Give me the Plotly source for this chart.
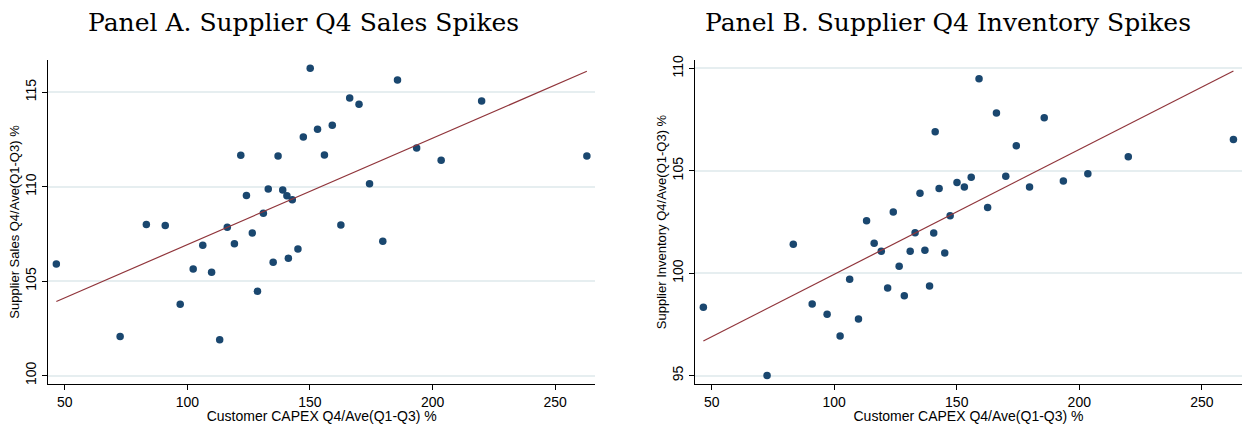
import numpy as np
import plotly.graph_objects as go
from plotly.subplots import make_subplots

# Shared x: Customer CAPEX Q4/Ave(Q1-Q3) %
capex = [46.6, 72.6, 83.3, 91.0, 97.1, 102.4, 106.3, 109.9, 113.2, 116.3,
         119.2, 121.8, 124.1, 126.5, 128.6, 131.0, 133.0, 135.0, 137.0, 138.9,
         140.6, 141.2, 142.8, 145.1, 147.3, 150.1, 153.1, 155.9, 159.1, 162.6,
         166.2, 170.0, 174.3, 179.7, 185.7, 193.5, 203.5, 220.0, 262.9]

# Panel A: Supplier Sales Q4/Ave(Q1-Q3) %
sales = [105.9, 102.06, 108.0, 107.95, 103.77, 105.64, 106.9, 105.47, 101.9, 107.85,
         106.98, 111.66, 109.54, 107.55, 104.46, 108.59, 109.88, 106.0, 111.63, 109.83,
         109.52, 106.21, 109.31, 106.7, 112.63, 116.27, 113.04, 111.68, 113.25, 107.97,
         114.7, 114.36, 110.16, 107.11, 115.65, 112.05, 111.4, 114.54, 111.63]

# Panel B: Supplier Inventory Q4/Ave(Q1-Q3) %
inventory = [98.34, 95.0, 101.41, 98.5, 98.0, 96.93, 99.7, 97.76, 102.56, 101.46,
             101.07, 99.28, 102.99, 100.34, 98.9, 101.07, 101.98, 103.9, 101.12, 99.38,
             101.96, 106.91, 104.13, 100.99, 102.81, 104.43, 104.21, 104.68, 109.49, 103.21,
             107.82, 104.73, 106.22, 104.21, 107.59, 104.5, 104.86, 105.69, 106.53]

titles = ["Panel A. Supplier Q4 Sales Spikes", "Panel B. Supplier Q4 Inventory Spikes"]
x_title = "Customer CAPEX Q4/Ave(Q1-Q3) %"
y_titles = ["Supplier Sales Q4/Ave(Q1-Q3) %", "Supplier Inventory Q4/Ave(Q1-Q3) %"]
x_ticks = [50, 100, 150, 200, 250]
y_ticks_a = [100, 105, 110, 115]
y_ticks_b = [95, 100, 105, 110]

NAVY = "#1a476f"
MAROON = "#90353b"
GRID = "#e6eef0"

fig = make_subplots(rows=1, cols=2, horizontal_spacing=0.08)

x = np.array(capex)
xs = np.array([x.min(), x.max()])
for col, yv in [(1, sales), (2, inventory)]:
    fig.add_trace(go.Scatter(x=capex, y=yv, mode="markers",
                             marker=dict(color=NAVY, size=7.5, line=dict(width=0)),
                             showlegend=False), row=1, col=col)
    b, a = np.polyfit(x, np.array(yv), 1)
    fig.add_trace(go.Scatter(x=xs, y=a + b * xs, mode="lines",
                             line=dict(color=MAROON, width=1.2),
                             showlegend=False), row=1, col=col)

axis_common = dict(showline=True, linecolor="black", linewidth=1.3,
                   ticks="outside", ticklen=5, tickcolor="black", tickwidth=1.2,
                   tickfont=dict(family="Liberation Sans", size=14, color="black"),
                   zeroline=False)

fig.update_xaxes(**axis_common, showgrid=False, tickvals=x_ticks, range=[43.2, 266.4],
                 title=dict(text=x_title, standoff=4,
                            font=dict(family="Liberation Sans", size=14, color="black")))
fig.update_xaxes(domain=[0.0, 0.4585], row=1, col=1)
fig.update_xaxes(domain=[0.5419, 1.0], row=1, col=2)

fig.update_yaxes(**axis_common, showgrid=True, gridcolor=GRID, gridwidth=1.5,
                 tickangle=-90)
fig.update_yaxes(tickvals=y_ticks_a, range=[99.55, 116.71], row=1, col=1,
                 title=dict(text=y_titles[0], standoff=0,
                            font=dict(family="Liberation Sans", size=13, color="black")))
fig.update_yaxes(tickvals=y_ticks_b, range=[94.59, 110.41], row=1, col=2,
                 title=dict(text=y_titles[1], standoff=0,
                            font=dict(family="Liberation Sans", size=13, color="black")))

W, H = 1248, 424
l, r, t, bm = 48, 6, 60, 40
fig.update_layout(
    width=W, height=H,
    margin=dict(l=l, r=r, t=t, b=bm, autoexpand=False),
    plot_bgcolor="white", paper_bgcolor="white",
    showlegend=False,
)
pw, ph = W - l - r, H - t - bm
for cx, txt in [(303, titles[0]), (948, titles[1])]:
    fig.add_annotation(text=txt, x=(cx - l) / pw, y=(H - bm - 23) / ph,
                       xref="paper", yref="paper", showarrow=False,
                       xanchor="center", yanchor="middle",
                       font=dict(family="DejaVu Serif", size=25, color="black"))

fig.write_html("out.html", config={"displayModeBar": False},
               post_script="document.body.style.margin='0';document.body.style.overflow='hidden';")
